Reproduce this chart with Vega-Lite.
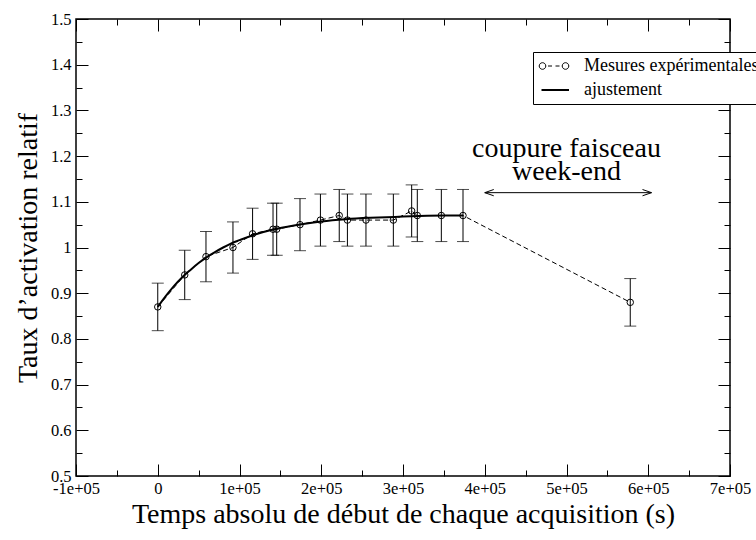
{
  "$schema": "https://vega.github.io/schema/vega-lite/v6.json",
  "width": 654,
  "height": 457,
  "autosize": "none",
  "padding": {"left": 76, "top": 19, "right": 26, "bottom": 64},
  "background": "white",
  "datasets": {
    "mes": [
      {"t": 0, "y": 0.87, "lo": 0.818, "hi": 0.922},
      {"t": 33000, "y": 0.94, "lo": 0.886, "hi": 0.994},
      {"t": 59000, "y": 0.98, "lo": 0.925, "hi": 1.035},
      {"t": 92000, "y": 1.0, "lo": 0.944, "hi": 1.056},
      {"t": 116000, "y": 1.03, "lo": 0.974, "hi": 1.086},
      {"t": 141000, "y": 1.04, "lo": 0.983, "hi": 1.097},
      {"t": 145500, "y": 1.04, "lo": 0.983, "hi": 1.097},
      {"t": 174000, "y": 1.05, "lo": 0.993, "hi": 1.107},
      {"t": 199000, "y": 1.06, "lo": 1.003, "hi": 1.117},
      {"t": 222000, "y": 1.07, "lo": 1.013, "hi": 1.127},
      {"t": 232000, "y": 1.06, "lo": 1.003, "hi": 1.117},
      {"t": 254700, "y": 1.06, "lo": 1.003, "hi": 1.117},
      {"t": 288200, "y": 1.06, "lo": 1.003, "hi": 1.117},
      {"t": 310600, "y": 1.08, "lo": 1.023, "hi": 1.137},
      {"t": 317500, "y": 1.07, "lo": 1.013, "hi": 1.127},
      {"t": 346900, "y": 1.07, "lo": 1.013, "hi": 1.127},
      {"t": 373400, "y": 1.07, "lo": 1.013, "hi": 1.127},
      {"t": 578000, "y": 0.88, "lo": 0.828, "hi": 0.932}
    ],
    "fit": [
      {"t": 0, "y": 0.870},
      {"t": 10000, "y": 0.894},
      {"t": 20000, "y": 0.916},
      {"t": 30000, "y": 0.935},
      {"t": 40000, "y": 0.951},
      {"t": 50000, "y": 0.966},
      {"t": 60000, "y": 0.979},
      {"t": 70000, "y": 0.990},
      {"t": 80000, "y": 1.000},
      {"t": 90000, "y": 1.009},
      {"t": 100000, "y": 1.016},
      {"t": 120000, "y": 1.029},
      {"t": 140000, "y": 1.039},
      {"t": 160000, "y": 1.046},
      {"t": 180000, "y": 1.052},
      {"t": 200000, "y": 1.057},
      {"t": 230000, "y": 1.062},
      {"t": 260000, "y": 1.065},
      {"t": 290000, "y": 1.067},
      {"t": 320000, "y": 1.069},
      {"t": 350000, "y": 1.070},
      {"t": 373400, "y": 1.070}
    ],
    "arrow": [
      {"x1": 400000, "x2": 604000, "y": 1.12}
    ],
    "notes": [
      {"t": 500000, "y": 1.198, "label": "coupure faisceau"},
      {"t": 500000, "y": 1.148, "label": "week-end"}
    ]
  },
  "layer": [
    {
      "data": {"name": "mes"},
      "mark": {"type": "rule", "color": "black", "strokeWidth": 1},
      "encoding": {
        "x": {"field": "t", "type": "quantitative", "scale": {"domain": [-100000, 700000], "nice": false, "zero": false},
          "axis": {"orient": "bottom", "values": [-100000, 0, 100000, 200000, 300000, 400000, 500000, 600000, 700000], "tickSize": -12, "labelPadding": 16,
            "labelExpr": "datum.value == 0 ? '0' : (datum.value < 0 ? '-' : '') + abs(datum.value / 100000) + 'e+05'",
            "title": "Temps absolu de début de chaque acquisition (s)", "titlePadding": 4}},
        "y": {"field": "lo", "type": "quantitative", "scale": {"domain": [0.5, 1.5], "nice": false, "zero": false},
          "axis": {"orient": "left", "values": [0.5, 0.6, 0.7, 0.8, 0.9, 1, 1.1, 1.2, 1.3, 1.4, 1.5], "tickSize": -12, "labelPadding": 17,
            "labelExpr": "'' + datum.value", "title": "Taux d’activation relatif", "titlePadding": 8}},
        "y2": {"field": "hi"}
      }
    },
    {
      "data": {"name": "mes"},
      "mark": {"type": "tick", "orient": "horizontal", "size": 12, "thickness": 1, "color": "black"},
      "encoding": {
        "x": {"field": "t", "type": "quantitative", "scale": {"domain": [-100000, 700000], "nice": false, "zero": false},
          "axis": {"orient": "bottom", "values": [-50000, 50000, 150000, 250000, 350000, 450000, 550000, 650000], "tickSize": -6, "labels": false, "title": null}},
        "y": {"field": "lo", "type": "quantitative", "scale": {"domain": [0.5, 1.5], "nice": false, "zero": false},
          "axis": {"orient": "left", "values": [0.55, 0.65, 0.75, 0.85, 0.95, 1.05, 1.15, 1.25, 1.35, 1.45], "tickSize": -6, "labels": false, "title": null}}
      }
    },
    {
      "data": {"name": "mes"},
      "mark": {"type": "tick", "orient": "horizontal", "size": 12, "thickness": 1, "color": "black"},
      "encoding": {
        "x": {"field": "t", "type": "quantitative", "scale": {"domain": [-100000, 700000], "nice": false, "zero": false},
          "axis": {"orient": "top", "values": [-100000, 0, 100000, 200000, 300000, 400000, 500000, 600000, 700000], "tickSize": -12, "labels": false, "title": null}},
        "y": {"field": "hi", "type": "quantitative", "scale": {"domain": [0.5, 1.5], "nice": false, "zero": false},
          "axis": {"orient": "right", "values": [0.5, 0.6, 0.7, 0.8, 0.9, 1, 1.1, 1.2, 1.3, 1.4, 1.5], "tickSize": -12, "labels": false, "title": null}}
      }
    },
    {
      "data": {"name": "mes"},
      "mark": {"type": "line", "strokeWidth": 1, "strokeDash": [5, 3]},
      "encoding": {
        "x": {"field": "t", "type": "quantitative", "scale": {"domain": [-100000, 700000], "nice": false, "zero": false},
          "axis": {"orient": "top", "values": [-50000, 50000, 150000, 250000, 350000, 450000, 550000, 650000], "tickSize": -6, "labels": false, "title": null}},
        "y": {"field": "y", "type": "quantitative", "scale": {"domain": [0.5, 1.5], "nice": false, "zero": false},
          "axis": {"orient": "right", "values": [0.55, 0.65, 0.75, 0.85, 0.95, 1.05, 1.15, 1.25, 1.35, 1.45], "tickSize": -6, "labels": false, "title": null}},
        "color": {"datum": "Mesures expérimentales", "type": "nominal",
          "scale": {"domain": ["Mesures expérimentales", "ajustement"], "range": ["black", "black"]},
          "legend": {
            "orient": "none", "legendX": 457, "legendY": 33, "title": null,
            "fillColor": "white", "strokeColor": "black", "padding": 5,
            "symbolSize": 400, "symbolOffset": 7, "labelOffset": 21, "rowPadding": 6,
            "labelFont": "Liberation Serif", "labelFontSize": 18, "labelColor": "black", "labelLimit": 400,
            "symbolType": "stroke",
            "encode": {
              "symbols": {
                "update": {
                  "shape": {"signal": "datum.value == 'ajustement' ? 'M-1.25,0H1.5' : 'M-0.82,0A0.33,0.33 0 1,0 -1.48,0A0.33,0.33 0 1,0 -0.82,0M-0.6,0H-0.2M0.15,0H0.55M1.48,0A0.33,0.33 0 1,0 0.82,0A0.33,0.33 0 1,0 1.48,0'"},
                  "strokeWidth": {"signal": "datum.value == 'ajustement' ? 2 : 1"},
                  "stroke": {"value": "black"},
                  "fill": {"value": "transparent"},
                  "opacity": {"value": 1}
                }
              }
            }
          }}
      }
    },
    {
      "data": {"name": "fit"},
      "mark": {"type": "line", "strokeWidth": 2, "interpolate": "monotone"},
      "encoding": {
        "x": {"field": "t", "type": "quantitative", "axis": null},
        "y": {"field": "y", "type": "quantitative", "axis": null},
        "color": {"datum": "ajustement", "type": "nominal"}
      }
    },
    {
      "data": {"name": "mes"},
      "mark": {"type": "point", "shape": "circle", "size": 42, "filled": false, "stroke": "black", "strokeWidth": 1, "opacity": 1},
      "encoding": {
        "x": {"field": "t", "type": "quantitative", "axis": null},
        "y": {"field": "y", "type": "quantitative", "axis": null}
      }
    },
    {
      "data": {"name": "arrow"},
      "mark": {"type": "rule", "color": "black", "strokeWidth": 1},
      "encoding": {
        "x": {"field": "x1", "type": "quantitative", "axis": null},
        "x2": {"field": "x2"},
        "y": {"field": "y", "type": "quantitative", "axis": null}
      }
    },
    {
      "data": {"name": "arrow"},
      "mark": {"type": "point", "shape": "M2,-0.7L0,0L2,0.7", "size": 81, "filled": false, "stroke": "black", "strokeWidth": 1, "opacity": 1},
      "encoding": {
        "x": {"field": "x1", "type": "quantitative", "axis": null},
        "y": {"field": "y", "type": "quantitative", "axis": null}
      }
    },
    {
      "data": {"name": "arrow"},
      "mark": {"type": "point", "shape": "M-2,-0.7L0,0L-2,0.7", "size": 81, "filled": false, "stroke": "black", "strokeWidth": 1, "opacity": 1},
      "encoding": {
        "x": {"field": "x2", "type": "quantitative", "axis": null},
        "y": {"field": "y", "type": "quantitative", "axis": null}
      }
    },
    {
      "data": {"name": "notes"},
      "mark": {"type": "text", "font": "Liberation Serif", "fontSize": 28, "color": "black", "align": "center", "baseline": "alphabetic"},
      "encoding": {
        "x": {"field": "t", "type": "quantitative", "axis": null},
        "y": {"field": "y", "type": "quantitative", "axis": null},
        "text": {"field": "label"}
      }
    }
  ],
  "resolve": {"axis": {"x": "independent", "y": "independent"}},
  "config": {
    "font": "Liberation Serif",
    "view": {"stroke": "black", "strokeWidth": 1.5},
    "axis": {
      "grid": false, "domain": false, "tickColor": "black", "tickWidth": 1,
      "labelColor": "black", "titleColor": "black",
      "labelFont": "Liberation Serif", "titleFont": "Liberation Serif",
      "labelFontSize": 16.5, "titleFontSize": 28, "titleFontWeight": "normal",
      "labelFlush": false, "labelOverlap": false
    }
  }
}
